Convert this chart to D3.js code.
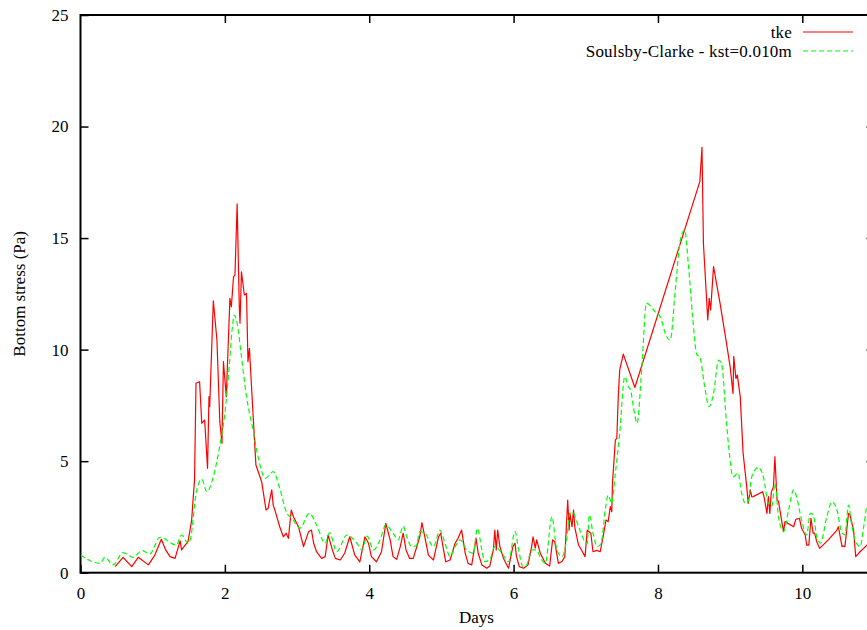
<!DOCTYPE html>
<html>
<head>
<meta charset="utf-8">
<script src="https://cdn.jsdelivr.net/npm/d3@7"></script>
<style>
  html, body { margin: 0; padding: 0; background: #fff; }
  svg { display: block; }
  text { font-family: "Liberation Serif", "Times New Roman", serif; fill: #000; }
</style>
</head>
<body>
<svg id="chart" width="867" height="630"></svg>
<script>
// Bottom stress time series (Pa) against time (days)
const tkeDays = [0.48,0.59,0.71,0.80,0.94,1.03,1.12,1.18,1.24,1.31,1.38,1.40,1.45,1.49,1.54,1.56,1.58,1.60,1.65,1.68,1.72,1.76,1.78,1.79,1.84,1.89,1.93,1.96,1.98,2.02,2.03,2.07,2.09,2.12,2.14,2.17,2.20,2.21,2.23,2.27,2.30,2.32,2.34,2.39,2.43,2.51,2.57,2.60,2.63,2.65,2.67,2.70,2.76,2.81,2.85,2.88,2.92,2.95,3.02,3.09,3.16,3.20,3.23,3.27,3.34,3.39,3.43,3.49,3.53,3.60,3.66,3.73,3.80,3.87,3.94,3.99,4.03,4.10,4.17,4.23,4.29,4.33,4.38,4.43,4.47,4.51,4.56,4.61,4.70,4.73,4.77,4.82,4.89,4.96,4.99,5.03,5.06,5.12,5.19,5.23,5.28,5.33,5.37,5.42,5.48,5.51,5.56,5.63,5.67,5.72,5.74,5.76,5.78,5.81,5.86,5.93,5.99,6.02,6.04,6.08,6.14,6.20,6.25,6.27,6.30,6.32,6.37,6.44,6.50,6.54,6.57,6.62,6.67,6.71,6.75,6.77,6.78,6.81,6.83,6.85,6.90,6.94,6.99,7.02,7.07,7.10,7.15,7.20,7.24,7.28,7.31,7.34,7.36,7.37,7.41,7.43,7.45,7.47,7.52,7.68,8.58,8.61,8.63,8.69,8.71,8.73,8.77,8.86,8.95,9.00,9.04,9.05,9.08,9.10,9.14,9.18,9.23,9.25,9.28,9.30,9.32,9.45,9.47,9.51,9.53,9.55,9.57,9.60,9.62,9.65,9.67,9.72,9.74,9.76,9.88,9.91,9.96,9.99,10.04,10.06,10.09,10.12,10.15,10.17,10.20,10.24,10.36,10.48,10.50,10.55,10.57,10.59,10.64,10.66,10.71,10.74,10.80,10.90,11.00];
const tkeStress = [0.27,0.69,0.27,0.69,0.35,0.79,1.50,1.02,0.72,0.64,1.43,1.02,1.24,1.39,2.36,3.30,4.15,8.49,8.56,6.70,6.84,4.68,7.89,7.44,12.19,10.43,6.77,5.80,9.46,7.89,8.79,12.30,11.92,13.27,13.34,16.53,11.92,11.18,13.49,12.45,12.52,9.46,10.06,7.14,4.83,4.08,2.81,2.89,3.41,3.71,3.03,2.73,2.06,1.61,1.77,1.54,2.81,2.51,2.06,1.17,1.84,1.91,1.32,0.94,0.64,0.72,1.69,1.02,0.64,0.57,0.87,1.61,0.79,0.49,1.61,1.32,0.72,0.49,0.94,2.21,1.47,0.72,0.60,1.17,1.77,1.02,0.64,0.64,1.61,2.24,1.61,0.79,0.57,1.61,1.77,1.02,0.49,0.57,1.32,1.54,1.91,0.87,0.42,0.35,1.54,0.87,0.35,0.20,0.30,1.02,1.91,1.02,1.91,1.17,0.64,0.20,1.17,1.32,0.72,0.27,0.20,0.35,1.17,1.61,1.10,1.47,0.87,0.42,0.30,1.47,1.40,0.42,0.50,0.72,3.26,1.91,2.66,2.06,2.81,2.00,1.24,1.02,0.72,1.91,1.77,0.94,1.00,0.94,1.61,2.36,2.29,2.96,2.73,4.01,5.95,6.02,7.89,9.09,9.80,8.30,17.53,19.07,14.76,11.33,12.30,11.78,13.72,12.08,10.28,9.23,8.04,9.70,8.71,8.86,7.89,5.35,3.85,3.11,3.71,3.40,3.41,3.63,3.40,2.66,3.41,2.66,3.60,3.85,5.20,3.26,3.20,2.21,1.84,2.29,2.06,2.39,2.44,1.99,1.69,1.24,1.24,2.44,1.77,1.77,1.39,1.09,1.47,1.91,2.06,1.17,1.20,1.17,2.66,2.60,1.91,0.72,0.94,1.24,1.60];

const scDays = [0.00,0.27,0.34,0.45,0.59,0.73,0.85,0.96,1.10,1.33,1.40,1.49,1.52,1.61,1.68,1.75,1.84,1.93,2.00,2.06,2.10,2.13,2.17,2.23,2.30,2.39,2.46,2.56,2.67,2.76,2.86,2.93,3.04,3.17,3.27,3.39,3.45,3.55,3.69,3.83,3.90,3.97,4.06,4.15,4.23,4.33,4.40,4.47,4.52,4.59,4.65,4.70,4.77,4.89,4.98,5.05,5.12,5.19,5.26,5.35,5.44,5.50,5.56,5.60,5.67,5.74,5.84,5.93,6.02,6.07,6.13,6.18,6.25,6.31,6.39,6.44,6.53,6.60,6.67,6.74,6.78,6.82,6.90,6.99,7.02,7.05,7.10,7.16,7.21,7.27,7.31,7.36,7.41,7.47,7.54,7.59,7.62,7.66,7.71,7.78,7.84,7.96,8.03,8.12,8.17,8.24,8.31,8.37,8.42,8.48,8.54,8.58,8.64,8.71,8.77,8.84,8.88,8.95,8.98,9.04,9.11,9.16,9.21,9.25,9.30,9.39,9.46,9.53,9.58,9.62,9.67,9.74,9.81,9.88,9.92,9.99,10.06,10.11,10.15,10.20,10.25,10.34,10.41,10.48,10.55,10.59,10.64,10.68,10.75,10.80,10.85,10.90,11.00];
const scStress = [0.79,0.42,0.69,0.35,0.90,0.69,0.99,0.84,1.59,1.24,1.69,1.32,1.47,3.71,4.19,3.63,4.30,5.70,7.14,9.23,10.88,11.55,11.18,9.68,7.89,6.40,5.20,4.23,4.53,3.78,2.66,2.44,1.99,2.66,2.14,1.32,1.79,0.94,1.69,1.32,1.02,1.64,1.02,1.47,2.14,1.77,1.47,2.09,1.61,1.17,1.20,1.84,1.77,1.17,1.91,1.32,0.72,1.17,1.47,1.02,0.87,1.99,1.02,0.49,0.60,1.17,0.87,0.49,1.84,1.02,0.27,0.35,1.02,1.02,0.57,0.42,2.51,1.02,0.72,1.61,2.66,2.70,2.06,1.39,1.30,2.59,1.77,1.17,1.30,2.81,3.48,3.11,4.46,6.25,8.79,8.34,8.20,7.44,6.70,9.39,12.08,11.70,11.48,10.58,10.43,12.67,14.91,15.36,13.87,11.48,9.76,9.68,8.49,7.44,8.04,9.53,9.39,6.70,5.65,4.30,4.46,3.56,3.11,3.20,4.30,4.72,4.30,3.11,3.00,4.01,2.51,1.84,2.81,3.71,3.41,2.36,1.69,2.66,2.60,1.61,1.32,2.51,3.18,2.81,1.77,1.70,3.03,2.21,1.32,1.17,2.06,3.03,3.30];

const xTicks = [0, 2, 4, 6, 8, 10];
const yTicks = [0, 5, 10, 15, 20, 25];
const seriesNames = ["tke", "Soulsby-Clarke - kst=0.010m"];
const seriesColors = ["#ff0000", "#00ff00"];

const svg = d3.select("#chart");
const plot = { left: 80.5, right: 874.5, top: 15, bottom: 572.7 };

const x = d3.scaleLinear().domain([0, 11]).range([plot.left, plot.right]);
const y = d3.scaleLinear().domain([0, 25]).range([plot.bottom, plot.top]);

svg.append("defs").append("clipPath").attr("id", "plotClip")
  .append("rect")
  .attr("x", plot.left).attr("y", plot.top)
  .attr("width", plot.right - plot.left).attr("height", plot.bottom - plot.top);

const tickLen = 8;

// Axes with inward ticks on all four sides
const bottomAxis = d3.axisBottom(x).tickValues(xTicks).tickSizeInner(-tickLen).tickSizeOuter(0).tickPadding(14);
const topAxis = d3.axisTop(x).tickValues(xTicks.filter(d => d > 0)).tickSizeInner(-tickLen).tickSizeOuter(0).tickFormat("");
const leftAxis = d3.axisLeft(y).tickValues(yTicks).tickSizeInner(-tickLen).tickSizeOuter(0).tickPadding(12);
const rightAxis = d3.axisRight(y).tickValues(yTicks.filter(d => d > 0 && d < 25)).tickSizeInner(-tickLen).tickSizeOuter(0).tickFormat("");

function styleAxis(g) {
  g.select(".domain").remove();
  g.selectAll(".tick line").attr("stroke", "#000").attr("stroke-width", 1.5);
  g.selectAll(".tick text")
    .attr("font-family", "Liberation Serif, Times New Roman, serif")
    .attr("font-size", 17).attr("fill", "#000");
}

svg.append("g").attr("transform", `translate(0,${plot.bottom})`).call(bottomAxis).call(styleAxis);
svg.append("g").attr("transform", `translate(0,${plot.top})`).call(topAxis).call(styleAxis);
svg.append("g").attr("transform", `translate(${plot.left},0)`).call(leftAxis).call(styleAxis);
svg.append("g").attr("transform", `translate(${plot.right},0)`).call(rightAxis).call(styleAxis);

// Plot frame
svg.append("rect")
  .attr("x", plot.left).attr("y", plot.top)
  .attr("width", plot.right - plot.left).attr("height", plot.bottom - plot.top)
  .attr("fill", "none").attr("stroke", "#000").attr("stroke-width", 2);

// Series: tke is drawn point to point, the Soulsby-Clarke estimate as a smooth curve
const tkeLine = d3.line().x(d => x(d[0])).y(d => y(d[1]));
const scLine = d3.line().x(d => x(d[0])).y(d => y(d[1])).curve(d3.curveMonotoneX);
const tkeData = tkeDays.map((d, i) => [d, tkeStress[i]]);
const scData = scDays.map((d, i) => [d, scStress[i]]);

const lines = svg.append("g").attr("clip-path", "url(#plotClip)");
lines.append("path").datum(tkeData)
  .attr("d", tkeLine).attr("fill", "none")
  .attr("stroke", seriesColors[0]).attr("stroke-width", 1.2).attr("stroke-linejoin", "round");
lines.append("path").datum(scData)
  .attr("d", scLine).attr("fill", "none")
  .attr("stroke", seriesColors[1]).attr("stroke-width", 1.2)
  .attr("stroke-dasharray", "5,3").attr("stroke-linejoin", "round");

// Legend (top right)
const legendRows = [32, 51];
const legend = svg.append("g");
seriesNames.forEach((name, i) => {
  const ly = legendRows[i];
  legend.append("text")
    .attr("x", 792).attr("y", ly + 5.5)
    .attr("text-anchor", "end").attr("font-size", 17)
    .attr("letter-spacing", 0.2)
    .text(name);
  const sample = legend.append("line")
    .attr("x1", 803).attr("x2", 853).attr("y1", ly).attr("y2", ly)
    .attr("stroke", seriesColors[i]).attr("stroke-width", 1.2);
  if (i === 1) sample.attr("stroke-dasharray", "5,3");
});

// Axis titles
svg.append("text")
  .attr("x", (plot.left + plot.right) / 2 - 1).attr("y", 623)
  .attr("text-anchor", "middle").attr("font-size", 17)
  .text("Days");

svg.append("text")
  .attr("transform", `translate(25,${(plot.top + plot.bottom) / 2}) rotate(-90)`)
  .attr("text-anchor", "middle").attr("font-size", 17)
  .text("Bottom stress (Pa)");
</script>
</body>
</html>
